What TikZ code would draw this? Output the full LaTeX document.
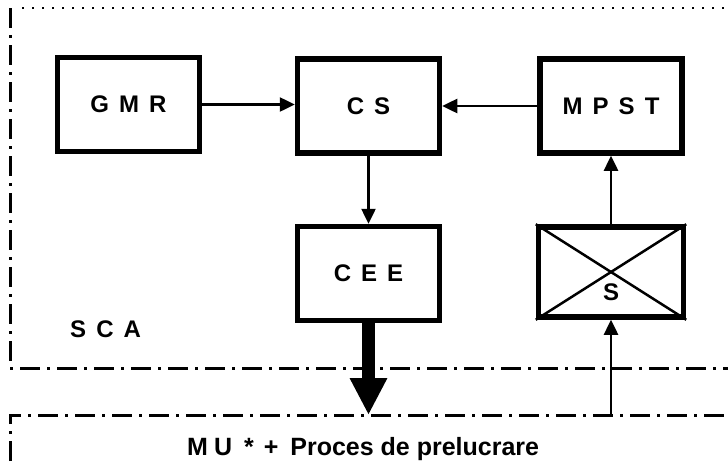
\documentclass[tikz,border=0pt]{standalone}
\usepackage{fontspec}
\setmainfont{Liberation Sans}
\newfontfamily\lblfam[LetterSpace=42]{Liberation Sans}
\newcommand\lblfont{\lblfam\bfseries\fontsize{24}{24}\selectfont}
\usetikzlibrary{arrows.meta}
\begin{document}
\begin{tikzpicture}[x=1pt,y=-1pt,
  blk/.style={draw, line width=5.5pt, minimum width=142pt, minimum height=94pt, inner sep=0pt, font=\lblfont},
  conn/.style={line width=2.5pt, -{Triangle[length=15pt,width=14pt]}},
  bigconn/.style={line width=13pt, -{Triangle[length=37pt,width=35pt]}},
  ddash/.style={line width=3pt, dash pattern=on 20pt off 7pt on 3pt off 7pt},
  dotline/.style={line width=1.5pt, dash pattern=on 2pt off 8pt},
  lbl/.style={font=\lblfont, inner sep=0pt}]
\fill[white] (0,0) rectangle (728,461);
\useasboundingbox (0,0) rectangle (728,461);
% frames
\draw[ddash] (10,8) -- (10,368) -- (728,368);
\draw[dotline] (22,8) -- (728,8);
\draw[ddash] (10,461) -- (10,415) -- (728,415);
% blocks
\node[blk] (gmr) at (128.5,104.5) {GMR};
\node[blk] (cs) at (368.5,106) {CS};
\node[blk] (mpst) at (611,106) {MPST};
\node[blk] (cee) at (368.5,273.5) {CEE};
\node[blk, minimum width=145pt, minimum height=90pt] (s) at (611,272) {};
\draw[line width=2.5pt] (s.north west) -- (s.south east);
\draw[line width=2.5pt] (s.south west) -- (s.north east);
\node[font=\bfseries\fontsize{24}{24}\selectfont, inner sep=0pt] (slbl) at (611,292) {S};
% connectors
\coordinate (sin) at (611,415);
\coordinate (mout) at (368.5,415);
\draw[conn] (gmr.east) -- (gmr.east -| cs.west);
\draw[conn] (mpst.west) -- (mpst.west -| cs.east);
\draw[conn] (cs.south) -- (cee.north);
\draw[conn] (s.north) -- (mpst.south);
\draw[conn] (sin) -- (s.south);
\draw[bigconn] (cee.south) -- (mout);
% texts
\node[lbl, anchor=base west] (sca) at (70,337) {SCA};
\node[font=\bfseries\fontsize{25}{25}\selectfont, inner sep=0pt, anchor=base west] (mu) at (187,455)
  {M\hspace{6pt}U\hspace{12pt}*\hspace{10pt}+\hspace{12pt}Proces de prelucrare};
\end{tikzpicture}
\end{document}
